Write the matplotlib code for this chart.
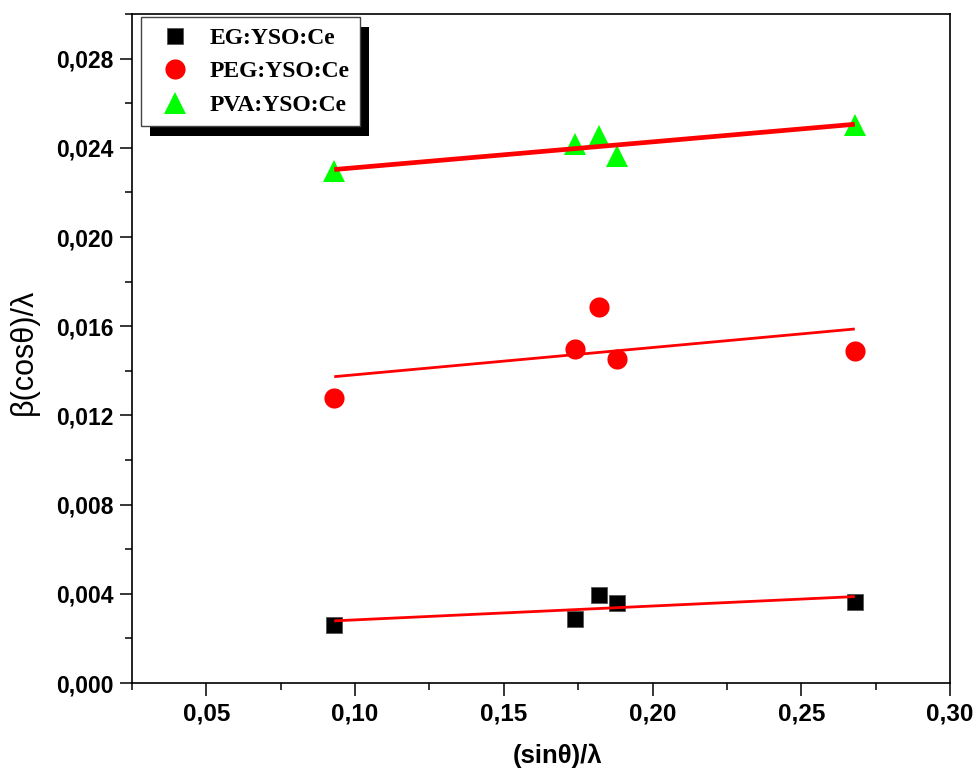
import numpy as np
import matplotlib
matplotlib.use("Agg")
import matplotlib.pyplot as plt
from matplotlib.patches import Rectangle
from matplotlib.ticker import MultipleLocator, FuncFormatter

# ---- data ----
x_vals = [0.093, 0.174, 0.182, 0.188, 0.268]
eg_y = [0.00262, 0.00288, 0.00394, 0.00358, 0.00365]
peg_y = [0.01276, 0.01496, 0.01688, 0.01455, 0.01491]
pva_y = [0.02294, 0.02415, 0.02451, 0.02361, 0.02502]
labels = ["EG:YSO:Ce", "PEG:YSO:Ce", "PVA:YSO:Ce"]

W, H = 976, 776
fig = plt.figure(figsize=(W / 100, H / 100), dpi=100)
ax = fig.add_axes([132 / W, 1 - 683 / H, (950 - 132) / W, (683 - 14) / H])

x = np.array(x_vals)

h1, = ax.plot(x, eg_y, ls="none", marker="s", ms=11.5, mfc="black", mec="#555555",
              mew=0.6, zorder=3, label=labels[0])
h2, = ax.plot(x, peg_y, ls="none", marker="o", ms=14.5, mfc="red", mec="red",
              mew=0, zorder=3, label=labels[1])
h3, = ax.plot(x, pva_y, ls="none", marker="^", ms=16.5, mfc="#00ff00", mec="#00ff00",
              mew=0, zorder=3, label=labels[2])

xf = np.array([min(x_vals), max(x_vals)])
for ys, lw in [(eg_y, 2.0), (peg_y, 2.0), (pva_y, 3.4)]:
    p = np.polyfit(x, ys, 1)
    ax.plot(xf, np.polyval(p, xf), color="red", lw=lw, solid_capstyle="butt", zorder=4)

ax.set_xlim(0.025, 0.30)
ax.set_ylim(0.0, 0.030)
ax.xaxis.set_major_locator(MultipleLocator(0.05))
ax.xaxis.set_minor_locator(MultipleLocator(0.025))
ax.yaxis.set_major_locator(MultipleLocator(0.004))
ax.yaxis.set_minor_locator(MultipleLocator(0.002))
ax.xaxis.set_major_formatter(FuncFormatter(lambda v, p: f"{v:.2f}".replace(".", ",")))
ax.yaxis.set_major_formatter(FuncFormatter(lambda v, p: f"{v:.3f}".replace(".", ",")))

ax.tick_params(axis="both", which="major", direction="out", length=9, width=1.1)
ax.tick_params(axis="both", which="minor", direction="out", length=5, width=1.1)
ax.tick_params(axis="y", which="major", pad=4)
ax.tick_params(axis="x", which="major", pad=5)
for lab in ax.get_yticklabels():
    lab.set_fontfamily("Liberation Sans")
    lab.set_fontweight("bold")
    lab.set_fontsize(16.5)
for lab in ax.get_xticklabels():
    lab.set_fontfamily("Liberation Sans")
    lab.set_fontweight("bold")
    lab.set_fontsize(17.5)

for s in ax.spines.values():
    s.set_linewidth(1.2)
    s.set_color("black")

fig.text(558 / W, 1 - 756 / H, "(sin\u03b8)/\u03bb", ha="center", va="center",
         fontsize=18.5, fontweight="bold", family=["Liberation Sans", "DejaVu Sans"])
fig.text(24 / W, 1 - 352 / H, "\u03b2(cos\u03b8)/\u03bb", ha="center", va="center",
         rotation=90, fontsize=22, family=["Liberation Sans", "DejaVu Sans"])

leg = ax.legend(handles=[h1, h2, h3], loc="upper left",
                bbox_to_anchor=(141 / W, 1 - 17 / H), bbox_transform=fig.transFigure,
                borderaxespad=0, fancybox=False, frameon=True, framealpha=1,
                edgecolor="#444444", borderpad=0.45, handlelength=2.0,
                handletextpad=0.45, labelspacing=0.5,
                prop={"family": "Liberation Serif", "weight": "bold", "size": 17})
leg.get_frame().set_linewidth(1.0)
leg.set_zorder(6)

fig.canvas.draw()
bb = leg.get_window_extent()
dx, dy = 9, 10
shadow = Rectangle(((bb.x0 + dx) / W, (bb.y0 - dy) / H), bb.width / W, bb.height / H,
                   transform=fig.transFigure, facecolor="black", edgecolor="none",
                   zorder=5.5, clip_on=False)
ax.add_patch(shadow)

fig.savefig("out.png", dpi=100)
